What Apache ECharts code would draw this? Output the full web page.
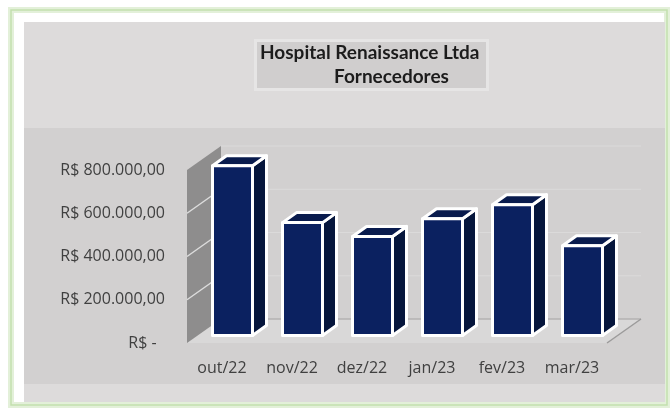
<!DOCTYPE html>
<html>
<head>
<meta charset="utf-8">
<script src="https://cdn.jsdelivr.net/npm/echarts@6/dist/echarts.min.js"></script>
<style>
  html, body { margin: 0; padding: 0; background: #fff; }
  #main { width: 670px; height: 410px; }
</style>
</head>
<body>
<div id="main"></div>
<script>
// dados
var meses = ['out/22', 'nov/22', 'dez/22', 'jan/23', 'fev/23', 'mar/23'];
var valores = [785000, 522000, 458000, 540000, 605000, 415000];
var yTicks = [0, 200000, 400000, 600000, 800000];
var tituloLinha1 = 'Hospital Renaissance Ltda';
var tituloLinha2 = 'Fornecedores';

(function () {
  var chartDom = document.getElementById('main');
  var myChart = echarts.init(chartDom);

  // profundidade do "3D"
  var PX = 34, PY = 24;
  // barra: deslocamento da face frontal e profundidade
  var BAR_OX = 10.5, BAR_OY = 7.5, BAR_DX = 14, BAR_DY = 10, BAR_W = 40;

  function moeda(v) {
    if (v === 0) return 'R$ -  ';
    var s = String(Math.round(v));
    var out = '';
    while (s.length > 3) {
      out = '.' + s.slice(-3) + out;
      s = s.slice(0, -3);
    }
    return 'R$ ' + s + out + ',00';
  }

  // parede lateral, piso e linhas de grade do fundo
  function renderDecor(params, api) {
    var band = api.size([1, 0])[0];
    var x0 = api.coord([0, 0])[0] - band / 2;
    var x1 = api.coord([meses.length - 1, 0])[0] + band / 2;
    var y0 = api.coord([0, 0])[1];
    var yTop = api.coord([0, yTicks[yTicks.length - 1]])[1];
    var children = [];
    // piso
    children.push({
      type: 'polygon',
      shape: { points: [[x0, y0], [x1, y0], [x1 + PX, y0 - PY], [x0 + PX, y0 - PY]] },
      style: { fill: '#d9d8d8' }
    });
    children.push({
      type: 'line',
      shape: { x1: x0 + PX, y1: y0 - PY, x2: x1 + PX, y2: y0 - PY },
      style: { stroke: '#b3b2b2', lineWidth: 1.5 }
    });
    children.push({
      type: 'line',
      shape: { x1: x1, y1: y0, x2: x1 + PX, y2: y0 - PY },
      style: { stroke: '#9c9b9b', lineWidth: 1.5 }
    });
    // grade do fundo
    yTicks.slice(1).forEach(function (v) {
      var y = api.coord([0, v])[1];
      children.push({
        type: 'line',
        shape: { x1: x0 + PX, y1: y - PY, x2: x1 + PX, y2: y - PY },
        style: { stroke: '#dbdada', lineWidth: 1 }
      });
    });
    // parede
    children.push({
      type: 'polygon',
      shape: { points: [[x0, y0], [x0, yTop], [x0 + PX, yTop - PY], [x0 + PX, y0 - PY]] },
      style: { fill: '#8e8d8d' }
    });
    yTicks.slice(1, -1).forEach(function (v) {
      var y = api.coord([0, v])[1];
      children.push({
        type: 'line',
        shape: { x1: x0, y1: y, x2: x0 + PX, y2: y - PY },
        style: { stroke: '#dcdcdc', lineWidth: 1.5 }
      });
    });
    return { type: 'group', children: children };
  }

  // barras em "3D"
  function renderBar(params, api) {
    var i = api.value(0);
    var v = api.value(1);
    var base = api.coord([i, 0]);
    var top = api.coord([i, v]);
    var cx = base[0] + BAR_OX;
    var yb = base[1] - BAR_OY;
    var yt = top[1] - BAR_OY;
    var xl = cx - BAR_W / 2;
    var xr = cx + BAR_W / 2;
    var borda = { stroke: '#ffffff', lineWidth: 3, lineJoin: 'round' };
    return {
      type: 'group',
      children: [
        {
          type: 'polygon',
          shape: { points: [[xr, yb], [xr, yt], [xr + BAR_DX, yt - BAR_DY], [xr + BAR_DX, yb - BAR_DY]] },
          style: Object.assign({ fill: '#06163c' }, borda)
        },
        {
          type: 'polygon',
          shape: { points: [[xl, yt], [xr, yt], [xr + BAR_DX, yt - BAR_DY], [xl + BAR_DX, yt - BAR_DY]] },
          style: Object.assign({ fill: '#091b4d' }, borda)
        },
        {
          type: 'rect',
          shape: { x: xl, y: yt, width: BAR_W, height: yb - yt },
          style: Object.assign({ fill: '#0b2160' }, borda)
        }
      ]
    };
  }

  var option = {
    animation: false,
    title: {
      left: 255,
      top: 38,
      backgroundColor: '#d0cece',
      borderColor: '#e6e5e5',
      borderWidth: 3,
      padding: [3, 8, 3, 5],
      text: '{a|' + tituloLinha1 + '}\n{b|' + tituloLinha2 + '}',
      textStyle: {
        rich: {
          a: { fontFamily: 'Lato', fontWeight: 'bold', fontSize: 19, color: '#1c1c1c', lineHeight: 24 },
          b: { fontFamily: 'Lato', fontWeight: 'bold', fontSize: 19, color: '#1c1c1c', lineHeight: 24, padding: [0, 0, 0, 74] }
        }
      }
    },
    graphic: [
      { type: 'rect', z: -10, shape: { x: 11, y: 10, width: 656, height: 395 },
        style: { fill: 'none', stroke: '#e3f0d9', lineWidth: 6 } },
      { type: 'rect', z: -9, shape: { x: 11, y: 10, width: 656, height: 395 },
        style: { fill: 'none', stroke: '#c3dfae', lineWidth: 1.5 } },
      { type: 'rect', z: -8, shape: { x: 24, y: 22, width: 641, height: 380 },
        style: { fill: '#dddbdb' } },
      { type: 'rect', z: -7, shape: { x: 24, y: 128, width: 641, height: 256 },
        style: { fill: '#d2d0d0' } }
    ],
    grid: {
      left: 187,
      right: 63,
      top: 170,
      bottom: 67
    },
    xAxis: {
      type: 'category',
      data: meses,
      axisLine: { show: false },
      axisTick: { show: false },
      axisLabel: {
        interval: 0,
        fontFamily: 'Open Sans',
        fontSize: 16,
        color: '#404040',
        margin: 17
      }
    },
    yAxis: {
      type: 'value',
      min: 0,
      max: 800000,
      interval: 200000,
      axisLine: { show: false },
      axisTick: { show: false },
      splitLine: { show: false },
      axisLabel: {
        fontFamily: 'Open Sans',
        fontSize: 16,
        color: '#404040',
        margin: 22,
        padding: [3, 0, 0, 0],
        formatter: moeda
      }
    },
    series: [
      {
        type: 'custom',
        silent: true,
        renderItem: renderDecor,
        data: [[0, 0]],
        z: 1
      },
      {
        type: 'custom',
        name: 'Fornecedores',
        renderItem: renderBar,
        data: valores.map(function (v, i) { return [i, v]; }),
        z: 3
      }
    ]
  };

  option && myChart.setOption(option);
})();
</script>
</body>
</html>
